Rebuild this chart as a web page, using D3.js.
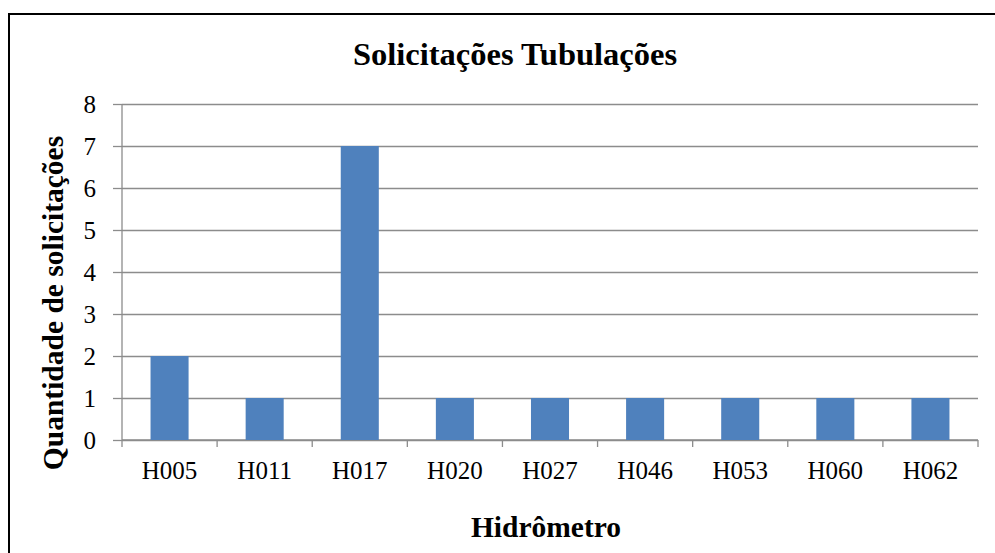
<!DOCTYPE html>
<html>
<head>
<meta charset="utf-8">
<script src="https://cdn.jsdelivr.net/npm/d3@7"></script>
<style>
    body { margin: 0; background: #fff; }
    svg { display: block; }
    svg text { font-family: "Liberation Serif", "Times New Roman", serif; fill: #000; }
    .grid line { stroke: #8c8c8c; stroke-width: 1.3; }
    .axis path, .axis line { stroke: #8c8c8c; stroke-width: 1.3; }
    .axis text { font-size: 25px; }
    .title { font-size: 32.5px; font-weight: bold; }
    .label { font-size: 29.5px; font-weight: bold; }
</style>
</head>
<body>
<svg id="graphSVG" width="995" height="553"></svg>
<script>
// Data
const categories = ['H005', 'H011', 'H017', 'H020', 'H027', 'H046', 'H053', 'H060', 'H062'];
const values = [2, 1, 7, 1, 1, 1, 1, 1, 1];
const yTicks = [0, 1, 2, 3, 4, 5, 6, 7, 8];

const svg = d3.select('svg');

// outer frame
svg.append('rect')
    .attr('x', 9)
    .attr('y', 14)
    .attr('width', 1000)
    .attr('height', 600)
    .attr('fill', 'none')
    .attr('stroke', '#000')
    .attr('stroke-width', 2);

const plotLeft = 122, plotRight = 978, plotTop = 104, plotBottom = 440;
const width = plotRight - plotLeft;
const height = plotBottom - plotTop;

const chart = svg.append('g')
    .attr('transform', `translate(${plotLeft}, ${plotTop})`);

const xScale = d3.scaleBand()
    .domain(categories)
    .range([0, width])
    .paddingInner(0.6)
    .paddingOuter(0.3);

const yScale = d3.scaleLinear()
    .domain([0, 8])
    .range([height, 0]);

// horizontal grid lines
chart.append('g')
    .attr('class', 'grid')
    .call(d3.axisLeft(yScale)
        .tickValues(yTicks)
        .tickSize(-width)
        .tickFormat(''))
    .call(g => g.select('.domain').remove());

// y axis
chart.append('g')
    .attr('class', 'axis')
    .call(d3.axisLeft(yScale)
        .tickValues(yTicks)
        .tickSize(9)
        .tickPadding(17)
        .tickFormat(d3.format('d')))
    .call(g => g.attr('font-family', null).attr('font-size', null))
    .call(g => g.select('.domain').attr('d', `M0,${height}V0`));

// x axis with ticks at band edges
const edges = d3.range(categories.length + 1).map(i => i * width / categories.length);
const xAxis = chart.append('g')
    .attr('class', 'axis')
    .attr('transform', `translate(0, ${height})`);

xAxis.append('path')
    .attr('d', `M0,0H${width}`);

xAxis.selectAll('line')
    .data(edges)
    .enter()
    .append('line')
    .attr('x1', d => d)
    .attr('x2', d => d)
    .attr('y1', 0)
    .attr('y2', 7);

xAxis.selectAll('text')
    .data(categories)
    .enter()
    .append('text')
    .attr('x', d => xScale(d) + xScale.bandwidth() / 2)
    .attr('y', 39)
    .attr('text-anchor', 'middle')
    .text(d => d);

// bars
chart.selectAll('.bar')
    .data(values)
    .enter()
    .append('rect')
    .attr('class', 'bar')
    .attr('x', (d, i) => xScale(categories[i]))
    .attr('y', d => yScale(d))
    .attr('width', xScale.bandwidth())
    .attr('height', d => height - yScale(d))
    .attr('fill', '#4f81bd');

// titles
svg.append('text')
    .attr('class', 'title')
    .attr('x', 515)
    .attr('y', 65)
    .attr('text-anchor', 'middle')
    .text('Solicitações Tubulações');

svg.append('text')
    .attr('class', 'label')
    .attr('x', 546)
    .attr('y', 537)
    .attr('text-anchor', 'middle')
    .text('Hidrômetro');

svg.append('text')
    .attr('class', 'label')
    .attr('transform', 'translate(63, 303) rotate(-90)')
    .attr('text-anchor', 'middle')
    .text('Quantidade de solicitações');
</script>
</body>
</html>
